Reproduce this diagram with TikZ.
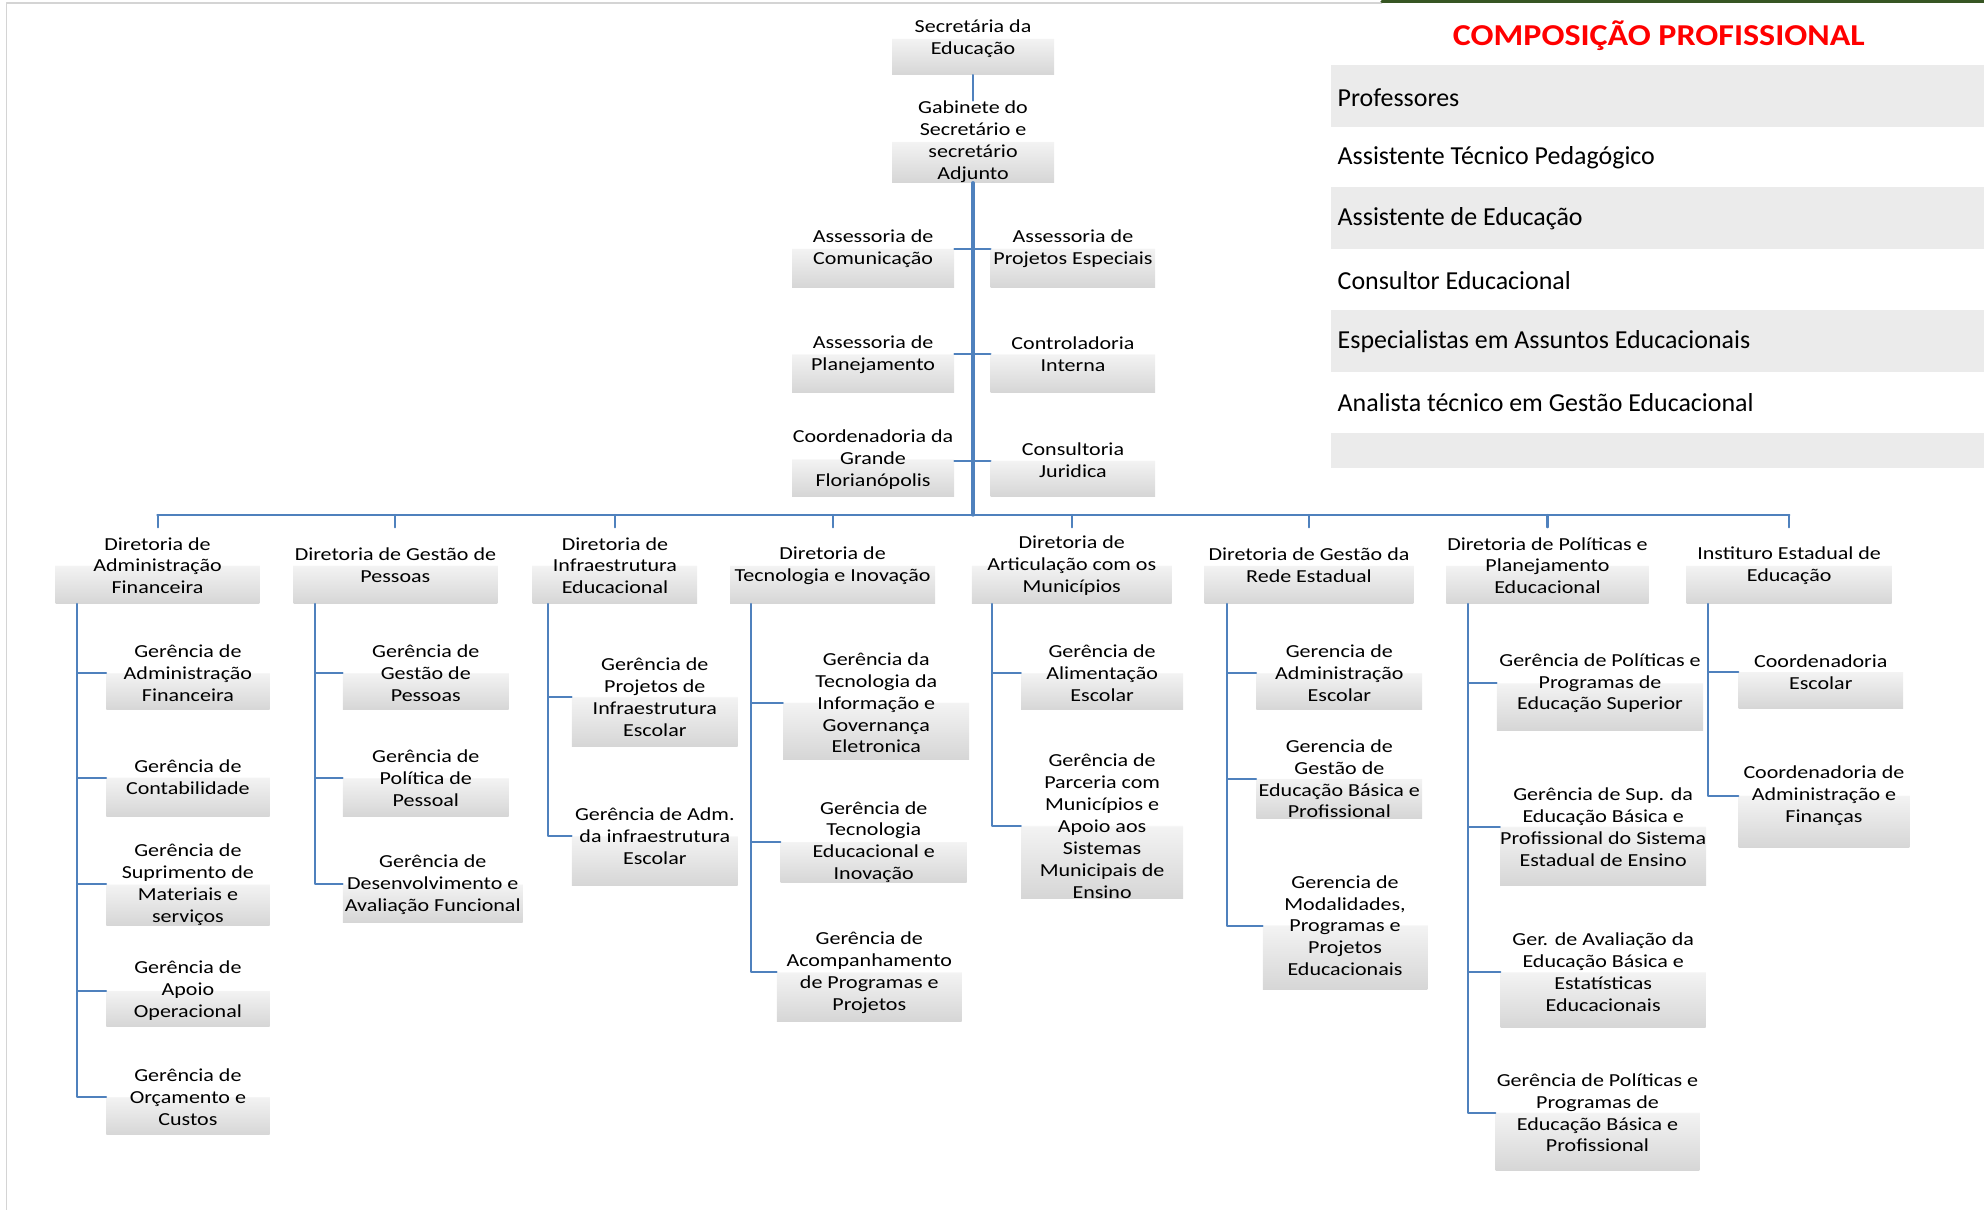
\documentclass[tikz,border=0pt]{standalone}
\usepackage{fontspec}
\setmainfont{Carlito}
\newfontfamily\caixafont[FakeStretch=1.2]{Carlito}
\newfontfamily\titulofont[FakeStretch=1.12]{Carlito}
\definecolor{azul}{HTML}{4F81BD}
\definecolor{cinza}{HTML}{D6D6D6}
\definecolor{claro}{HTML}{F3F3F3}
\definecolor{faixa}{HTML}{EBEBEB}
\definecolor{moldura}{HTML}{D4D4D4}
\definecolor{verde}{HTML}{375623}
\pgfdeclareverticalshading{caixagrad}{100bp}{color(0bp)=(cinza); color(25bp)=(cinza);
  color(50bp)=(claro); color(50.5bp)=(white); color(100bp)=(white)}
\tikzset{
  caixa/.style={shading=caixagrad, inner sep=0pt, align=center,
    font=\caixafont\fontsize{14.5}{17.3}\selectfont},
  linha/.style={draw=azul, line width=1.6pt},
  prof/.style={anchor=west, inner sep=0pt, font=\fontsize{20.5}{23}\selectfont},
}
\begin{document}
\begin{tikzpicture}[x=1pt, y=-1pt, line join=round, line cap=round]
  \useasboundingbox (0,0) rectangle (1568,956);
  % composicao profissional
  \fill[faixa] (1052,51) rectangle (1568,100);
  \fill[faixa] (1052,148) rectangle (1568,197);
  \fill[faixa] (1052,245) rectangle (1568,294);
  \fill[faixa] (1052,342) rectangle (1568,370);
  \node (titulo) at (1311,28) [text=red, font=\titulofont\bfseries\fontsize{24}{27}\selectfont]{COMPOSIÇÃO PROFISSIONAL};
  \node[prof] (p1) at (1057,77) {Professores};
  \node[prof] (p2) at (1057,125) {Assistente Técnico Pedagógico};
  \node[prof] (p3) at (1057,173) {Assistente de Educação};
  \node[prof] (p4) at (1057,222) {Consultor Educacional};
  \node[prof] (p5) at (1057,270) {Especialistas em Assuntos Educacionais};
  \node[prof] (p6) at (1057,318) {Analista técnico em Gestão Educacional};
  % topo
  \node[caixa, minimum width=128pt, minimum height=57pt] (sec) at (769,30.5) {Secretária da\\Educação};
  \node[caixa, minimum width=128pt, minimum height=62pt] (gab) at (769,112) {Gabinete do\\Secretário e\\secretário\\Adjunto};
  \node[caixa, minimum width=128pt, minimum height=61pt] (ascom) at (690,196.5) {Assessoria de\\Comunicação};
  \node[caixa, minimum width=130pt, minimum height=61pt] (asproj) at (848,196.5) {Assessoria de\\Projetos Especiais};
  \node[caixa, minimum width=128pt, minimum height=60pt] (asplan) at (690,280) {Assessoria de\\Planejamento};
  \node[caixa, minimum width=130pt, minimum height=60pt] (contr) at (848,280) {Controladoria\\Interna};
  \node[caixa, minimum width=128pt, minimum height=58pt] (coord) at (690,363) {Coordenadoria da\\Grande\\Florianópolis};
  \node[caixa, minimum width=130pt, minimum height=56pt] (consult) at (848,364) {Consultoria\\Juridica};
  \coordinate (barra) at (769,407);
  % diretorias
  \node[caixa, minimum width=161pt, minimum height=60pt] (d1) at (124.5,447) {Diretoria de\\Administração\\Financeira};
  \node[caixa, minimum width=161pt, minimum height=60pt] (d2) at (312.5,447) {Diretoria de Gestão de\\Pessoas};
  \node[caixa, minimum width=130pt, minimum height=60pt] (d3) at (486,447) {Diretoria de\\Infraestrutura\\Educacional};
  \node[caixa, minimum width=162pt, minimum height=60pt] (d4) at (658,447) {Diretoria de\\Tecnologia e Inovação};
  \node[caixa, minimum width=158pt, minimum height=60pt] (d5) at (847,447) {Diretoria de\\Articulação com os\\Municípios};
  \node[caixa, minimum width=165pt, minimum height=60pt] (d6) at (1034.5,447) {Diretoria de Gestão da\\Rede Estadual};
  \node[caixa, minimum width=160pt, minimum height=60pt] (d7) at (1223,447) {Diretoria de Políticas e\\Planejamento\\Educacional};
  \node[caixa, minimum width=162pt, minimum height=60pt] (d8) at (1414,447) {Instituro Estadual de\\Educação};
  % gerencias
  \node[caixa, minimum width=129pt, minimum height=58pt] (g11) at (148.5,532) {Gerência de\\Administração\\Financeira};
  \node[caixa, minimum width=129pt, minimum height=61pt] (g12) at (148.5,614.5) {Gerência de\\Contabilidade};
  \node[caixa, minimum width=129pt, minimum height=60pt] (g13) at (148.5,699) {Gerência de\\Suprimento de\\Materiais e\\serviços};
  \node[caixa, minimum width=129pt, minimum height=56pt] (g14) at (148.5,783) {Gerência de\\Apoio\\Operacional};
  \node[caixa, minimum width=129pt, minimum height=60pt] (g15) at (148.5,867) {Gerência de\\Orçamento e\\Custos};
  \node[caixa, minimum width=131pt, minimum height=58pt] (g21) at (336.5,532) {Gerência de\\Gestão de\\Pessoas};
  \node[caixa, minimum width=131pt, minimum height=60pt] (g22) at (336.5,615) {Gerência de\\Política de\\Pessoal};
  \node[caixa, minimum width=142pt, minimum height=60pt] (g23) at (342,699) {Gerência de\\Desenvolvimento e\\Avaliação Funcional};
  \node[caixa, minimum width=131pt, minimum height=78pt] (g31) at (517.5,551) {Gerência de\\Projetos de\\Infraestrutura\\Escolar};
  \node[caixa, minimum width=131pt, minimum height=78pt] (g32) at (517.5,661) {Gerência de Adm.\\da infraestrutura\\Escolar};
  \node[caixa, minimum width=147pt, minimum height=89pt] (g41) at (692.5,555.5) {Gerência da\\Tecnologia da\\Informação e\\Governança\\Eletronica};
  \node[caixa, minimum width=147pt, minimum height=57pt] (g42) at (690.5,665.5) {Gerência de\\Tecnologia\\Educacional e\\Inovação};
  \node[caixa, minimum width=146pt, minimum height=77pt] (g43) at (687,768.5) {Gerência de\\Acompanhamento\\de Programas e\\Projetos};
  \node[caixa, minimum width=128pt, minimum height=58pt] (g51) at (871,532) {Gerência de\\Alimentação\\Escolar};
  \node[caixa, minimum width=128pt, minimum height=104pt] (g52) at (871,653) {Gerência de\\Parceria com\\Municípios e\\Apoio aos\\Sistemas\\Municipais de\\Ensino};
  \node[caixa, minimum width=131pt, minimum height=58pt] (g61) at (1058.5,532) {Gerencia de\\Administração\\Escolar};
  \node[caixa, minimum width=131pt, minimum height=59pt] (g62) at (1058.5,615.5) {Gerencia de\\Gestão de\\Educação Básica e\\Profissional};
  \node[caixa, minimum width=130pt, minimum height=101pt] (g63) at (1063,731.5) {Gerencia de\\Modalidades,\\Programas e\\Projetos\\Educacionais};
  \node[caixa, minimum width=163pt, minimum height=74pt] (g71) at (1264.5,540) {Gerência de Políticas e\\Programas de\\Educação Superior};
  \node[caixa, minimum width=162pt, minimum height=93pt] (g72) at (1267,653.5) {Gerência de Sup. da\\Educação Básica e\\Profissional do Sistema\\Estadual de Ensino};
  \node[caixa, minimum width=162pt, minimum height=87pt] (g73) at (1267,768.5) {Ger. de Avaliação da\\Educação Básica e\\Estatísticas\\Educacionais};
  \node[caixa, minimum width=161pt, minimum height=91pt] (g74) at (1262.5,879.5) {Gerência de Políticas e\\Programas de\\Educação Básica e\\Profissional};
  \node[caixa, minimum width=130pt, minimum height=58pt] (g81) at (1439,531) {Coordenadoria\\Escolar};
  \node[caixa, minimum width=135pt, minimum height=82pt] (g82) at (1441.5,629) {Coordenadoria de\\Administração e\\Finanças};
  % ligacoes
  \draw[linha, line width=1.3pt] (sec.south) -- (gab.north);
  \draw[linha, line width=2.6pt] (gab.south) -- (barra);
  \draw[linha] (ascom.east) -- (asproj.west);
  \draw[linha] (asplan.east) -- (contr.west);
  \draw[linha] (coord.east |- consult) -- (consult.west);
  \draw[linha, line width=2.2pt] (barra -| d1.north) -- (barra -| d8.north);
  \draw[linha] (barra -| d1.north) -- (d1.north) (barra -| d2.north) -- (d2.north)
    (barra -| d3.north) -- (d3.north) (barra -| d4.north) -- (d4.north)
    (barra -| d5.north) -- (d5.north) (barra -| d6.north) -- (d6.north)
    (barra -| d7.north) -- (d7.north) (barra -| d8.north) -- (d8.north);
  \coordinate (e1) at ([xshift=17pt]d1.south west);
  \coordinate (e2) at ([xshift=17pt]d2.south west);
  \coordinate (e3) at ([xshift=12pt]d3.south west);
  \coordinate (e4) at ([xshift=17pt]d4.south west);
  \coordinate (e5) at ([xshift=16pt]d5.south west);
  \coordinate (e6) at ([xshift=18pt]d6.south west);
  \coordinate (e7) at ([xshift=17pt]d7.south west);
  \coordinate (e8) at ([xshift=17pt]d8.south west);
  \draw[linha] (e1) |- (g11.west) (e1) |- (g12.west) (e1) |- (g13.west) (e1) |- (g14.west) (e1) |- (g15.west);
  \draw[linha] (e2) |- (g21.west) (e2) |- (g22.west) (e2) |- (g23.west);
  \draw[linha] (e3) |- (g31.west) (e3) |- (g32.west);
  \draw[linha] (e4) |- (g41.west) (e4) |- (g42.west) (e4) |- (g43.west);
  \draw[linha] (e5) |- (g51.west) (e5) |- (g52.west);
  \draw[linha] (e6) |- (g61.west) (e6) |- (g62.west) (e6) |- (g63.west);
  \draw[linha] (e7) |- (g71.west) (e7) |- (g72.west) (e7) |- (g73.west) (e7) |- (g74.west);
  \draw[linha] (e8) |- (g81.west) (e8) |- (g82.west);
  % moldura
  \draw[moldura, line width=1.2pt] (5,956) -- (5,2.5) -- (1092,2.5);
  \draw[verde, line width=2pt] (1092,1) -- (1568,1);
\end{tikzpicture}
\end{document}
